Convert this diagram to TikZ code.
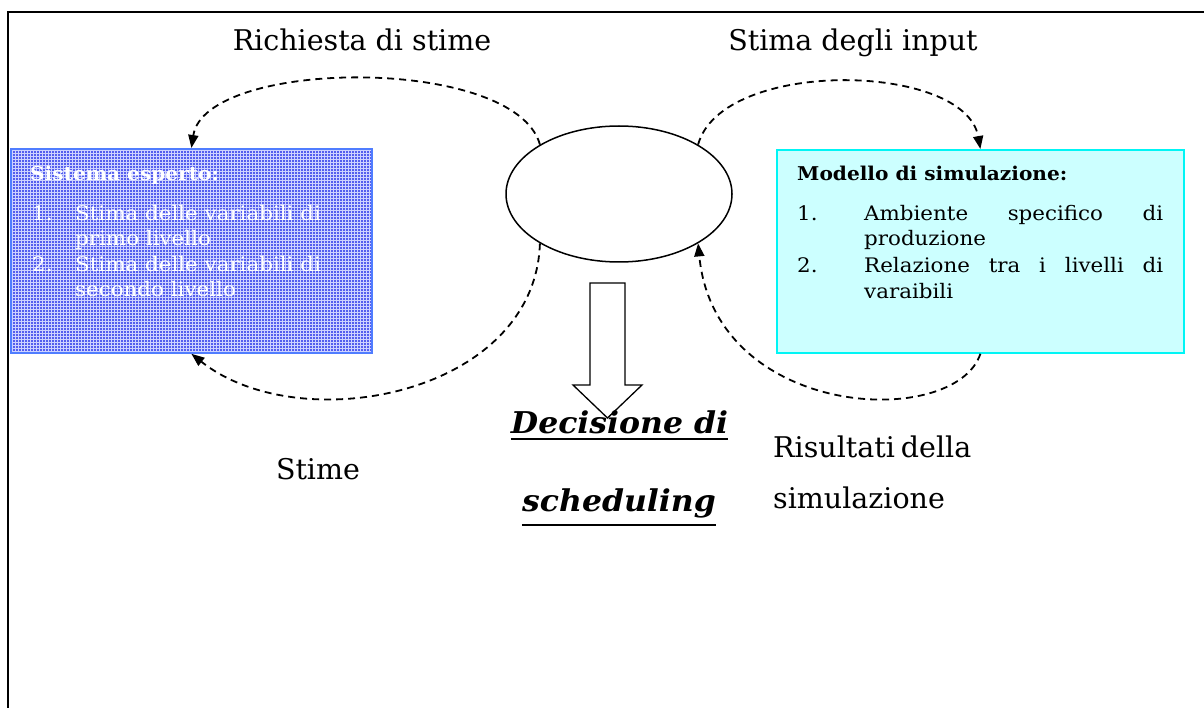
\documentclass[tikz,border=0pt]{standalone}
\usepackage{fontspec}
\setmainfont{DejaVu Serif}
\newfontfamily\boxfont[FakeStretch=1.07]{DejaVu Serif}
\newfontfamily\headfont[FakeStretch=1.06]{DejaVu Serif}
\newfontfamily\decfont[FakeStretch=1.05]{DejaVu Serif}
\usetikzlibrary{arrows.meta,patterns,shapes.geometric}

\definecolor{expertfill}{RGB}{84,94,238}
\definecolor{expertgrid}{RGB}{205,210,255}
\definecolor{expertedge}{RGB}{80,125,255}
\definecolor{simfill}{RGB}{204,255,255}
\definecolor{simedge}{RGB}{0,245,245}

\tikzset{
  lbl/.style={inner sep=0pt, anchor=base, font=\fontsize{28.5}{34}\selectfont},
  dec/.style={inner sep=0pt, anchor=base, font=\decfont\bfseries\itshape\fontsize{30}{36}\selectfont},
  boxtxt/.style={inner sep=0pt, anchor=base west, font=\boxfont\fontsize{20}{24}\selectfont},
  boxhead/.style={inner sep=0pt, anchor=base west, font=\headfont\bfseries\fontsize{19}{24}\selectfont},
  flow/.style={line width=1.8pt, dash pattern=on 7pt off 5pt,
               -{Triangle[length=13pt,width=10pt]}},
  panel/.style={inner sep=0pt, anchor=north west, line width=1.8pt},
}

\begin{document}
\begin{tikzpicture}[x=1pt,y=-1pt]
\useasboundingbox (0,0) rectangle (1204,708);

% page frame (top and left rules)
\draw[line width=2pt] (8,708) -- (8,12) -- (1204,12);

% central decision node
\node[ellipse, draw, line width=1.5pt, minimum width=226pt, minimum height=136pt,
      inner sep=0pt] (hub) at (619,194) {};

% expert system panel
\node[panel, draw=expertedge, preaction={fill=expertfill},
      pattern=grid, pattern color=expertgrid,
      minimum width=361pt, minimum height=204pt] (expert) at (10,148) {};
\node[boxhead, text=white] (eh) at (30,181) {Sistema esperto:};
\node[boxtxt, text=white] (e1n) at (32,221) {1.};
\node[boxtxt, text=white] (e1a) at (75,221) {Stima delle variabili di};
\node[boxtxt, text=white] (e1b) at (75,246) {primo livello};
\node[boxtxt, text=white] (e2n) at (32,272) {2.};
\node[boxtxt, text=white] (e2a) at (75,272) {Stima delle variabili di};
\node[boxtxt, text=white] (e2b) at (75,297) {secondo livello};

% simulation model panel
\node[panel, draw=simedge, fill=simfill,
      minimum width=407pt, minimum height=203pt] (sim) at (776,149) {};
\node[boxhead] (sh) at (797,181) {Modello di simulazione:};
\node[boxtxt] (s1n) at (797,221) {1.};
\node[boxtxt] (s1a) at (864,221) {\makebox[299pt][s]{Ambiente specifico di}};
\node[boxtxt] (s1b) at (864,246) {produzione};
\node[boxtxt] (s2n) at (797,273) {2.};
\node[boxtxt] (s2a) at (864,273) {\makebox[299pt][s]{Relazione tra i livelli di}};
\node[boxtxt] (s2b) at (864,299) {varaibili};

% dashed exchange loops
\draw[flow] (hub.148) .. controls (515,55) and (205,58) .. (expert.north);
\draw[flow] (hub.32) .. controls (722,58) and (965,62) .. (sim.north);
\draw[flow] (hub.212) .. controls (535,395) and (300,440) .. (expert.south);
\draw[flow] (sim.south) .. controls (955,430) and (715,420) .. (hub.328);

% loop captions
\node[lbl] (req) at (362,51) {Richiesta di stime};
\node[lbl] (inp) at (853,51) {Stima degli input};
\node[lbl] (est) at (318,479) {Stime};
\node[lbl, anchor=base west] (res1) at (773,457) {\makebox[195pt][s]{Risultati della}};
\node[lbl, anchor=base west] (res2) at (773,508) {simulazione};

% block arrow down to the outcome
\coordinate (shafttop) at (607.5,283);
\draw[line width=1.3pt, fill=white, shift={(shafttop)}]
  (-17.5,0) -- (17.5,0) -- (17.5,102) -- (34.5,102) -- (0,135)
  -- (-34.5,102) -- (-17.5,102) -- cycle;

% outcome
\node[dec] (dec1) at (619.5,433) {Decisione di};
\node[dec] (dec2) at (619,511) {scheduling};
\draw[line width=2.2pt] ([yshift=-6pt]dec1.base west) -- ([yshift=-6pt]dec1.base east);
\draw[line width=2.2pt] ([yshift=-14pt]dec2.base west) -- ([yshift=-14pt]dec2.base east);
\end{tikzpicture}
\end{document}
